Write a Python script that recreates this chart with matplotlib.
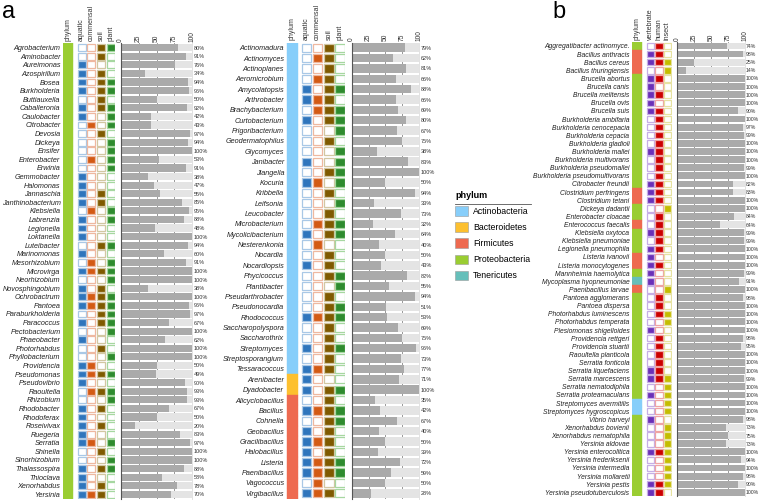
import matplotlib.pyplot as plt
from matplotlib.patches import Patch
from matplotlib.lines import Line2D

plt.rcParams['font.family'] = ['Liberation Sans', 'DejaVu Sans']

W, H = 760, 501

PHYLUM_COLORS = {
    'Actinobacteria': '#87CEFA',
    'Bacteroidetes': '#FDC02F',
    'Firmicutes': '#EE6A50',
    'Proteobacteria': '#9ACD32',
    'Tenericutes': '#66BFBA',
}
# (filled, empty border)
FLAG_COLORS = {
    'aquatic': ('#2F75BC', '#A9C8E6'),
    'commensal': ('#D35A14', '#EEB8A0'),
    'soil': ('#7F5A00', '#D2C7A2'),
    'plant': ('#2E8B2E', '#A6D7A0'),
    'vertebrate': ('#6A30B8', '#C6AEE6'),
    'human': ('#CC0000', '#EFA3A3'),
    'insect': ('#C4BD00', '#E6E2A0'),
}
BAR_DARK = '#AAAAAA'
BAR_LIGHT = '#E4E4E4'

# ---- panel a, left block (Proteobacteria) ----
a1_genus = ['Agrobacterium', 'Aminobacter', 'Aureimonas', 'Azospirillum', 'Bosea',
            'Burkholderia', 'Buttiauxella', 'Caballeronia', 'Caulobacter', 'Citrobacter',
            'Devosia', 'Dickeya', 'Ensifer', 'Enterobacter', 'Erwinia', 'Gemmobacter',
            'Halomonas', 'Jannaschia', 'Janthinobacterium', 'Klebsiella', 'Labrenzia',
            'Legionella', 'Loktanella', 'Luteibacter', 'Marinomonas', 'Mesorhizobium',
            'Microvirga', 'Neorhizobium', 'Novosphingobium', 'Ochrobactrum', 'Pantoea',
            'Paraburkholderia', 'Paracoccus', 'Pectobacterium', 'Phaeobacter', 'Photorhabdus',
            'Phyllobacterium', 'Providencia', 'Pseudomonas', 'Pseudovibrio', 'Raoultella',
            'Rhizobium', 'Rhodobacter', 'Rhodoferax', 'Roseivivax', 'Ruegeria', 'Serratia',
            'Shinella', 'Sinorhizobium', 'Thalassospira', 'Thioclava', 'Xenorhabdus', 'Yersinia']
a1_phylum = ['Proteobacteria'] * len(a1_genus)
a1_aquatic = [0, 0, 1, 1, 1, 1, 0, 1, 1, 0, 0, 0, 0, 0, 0, 1, 1, 1, 1, 0, 1, 1, 1, 0, 1, 0, 1,
              0, 1, 1, 1, 0, 1, 0, 1, 0, 0, 1, 1, 1, 0, 0, 1, 1, 1, 1, 1, 0, 0, 1, 1, 1, 1]
a1_commensal = [0, 0, 0, 0, 0, 0, 0, 0, 0, 1, 0, 0, 0, 1, 0, 0, 0, 0, 0, 1, 0, 0, 0, 0, 0, 1, 1,
                0, 0, 1, 1, 0, 0, 0, 0, 0, 0, 1, 1, 0, 1, 0, 0, 0, 0, 0, 1, 0, 0, 0, 0, 0, 1]
a1_soil = [1, 1, 0, 1, 1, 1, 1, 1, 0, 0, 1, 0, 0, 0, 0, 0, 0, 1, 1, 0, 0, 0, 0, 1, 0, 0, 1,
           0, 1, 1, 1, 1, 1, 0, 0, 1, 0, 0, 1, 0, 1, 0, 1, 0, 1, 0, 0, 1, 0, 1, 0, 1, 1]
a1_plant = [1, 0, 0, 0, 1, 1, 0, 1, 1, 1, 0, 1, 1, 1, 1, 0, 0, 0, 0, 1, 1, 0, 0, 1, 0, 1, 1,
            1, 0, 1, 1, 1, 1, 1, 0, 0, 1, 0, 1, 0, 1, 1, 0, 0, 0, 0, 1, 0, 1, 1, 0, 0, 0]
a1_pct = [80, 91, 76, 34, 94, 96, 50, 92, 42, 43, 97, 94, 100, 53, 91, 38, 47, 55, 85, 95,
          88, 48, 100, 94, 60, 91, 100, 100, 38, 100, 96, 97, 67, 100, 62, 100, 100, 50, 49, 90,
          93, 93, 67, 50, 20, 83, 97, 100, 100, 88, 58, 78, 70]

# ---- panel a, middle block ----
a2_genus = ['Actinomadura', 'Actinomyces', 'Actinoplanes', 'Aeromicrobium', 'Amycolatopsis',
            'Arthrobacter', 'Brachybacterium', 'Curtobacterium', 'Frigoribacterium',
            'Geodermatophilus', 'Glycomyces', 'Janibacter', 'Jiangella', 'Kocuria', 'Kribbella',
            'Leifsonia', 'Leucobacter', 'Microbacterium', 'Mycolicibacterium', 'Nesterenkonia',
            'Nocardia', 'Nocardiopsis', 'Phycicoccus', 'Plantibacter', 'Pseudarthrobacter',
            'Pseudonocardia', 'Rhodococcus', 'Saccharopolyspora', 'Saccharothrix', 'Streptomyces',
            'Streptosporangium', 'Tessaracoccus', 'Arenibacter', 'Dyadobacter', 'Alicyclobacillus',
            'Bacillus', 'Cohnella', 'Geobacillus', 'Gracilibacillus', 'Halobacillus', 'Listeria',
            'Paenibacillus', 'Vagococcus', 'Virgibacillus']
a2_phylum = ['Actinobacteria'] * 32 + ['Bacteroidetes'] * 2 + ['Firmicutes'] * 10
a2_aquatic = [0, 0, 0, 0, 1, 1, 0, 1, 0, 0, 0, 1, 0, 1, 0, 0, 0, 0, 1, 0, 0, 1,
              0, 0, 0, 0, 1, 0, 0, 1, 0, 1, 1, 1, 0, 1, 0, 1, 1, 1, 1, 1, 0, 1]
a2_commensal = [0, 1, 0, 1, 0, 1, 1, 0, 0, 0, 0, 0, 0, 1, 0, 0, 0, 1, 0, 1, 0, 0,
                0, 0, 0, 0, 1, 0, 0, 0, 0, 1, 0, 0, 0, 1, 0, 0, 1, 0, 1, 1, 1, 1]
a2_soil = [1, 1, 1, 1, 1, 1, 1, 1, 0, 1, 0, 0, 1, 0, 1, 0, 1, 1, 1, 0, 1, 1,
           1, 0, 1, 1, 1, 1, 1, 1, 1, 1, 0, 1, 1, 1, 1, 1, 1, 1, 1, 1, 0, 1]
a2_plant = [0, 0, 0, 0, 1, 0, 1, 1, 1, 0, 1, 1, 1, 1, 0, 1, 0, 1, 1, 0, 0, 0,
            1, 1, 0, 1, 1, 0, 0, 1, 0, 0, 0, 1, 0, 1, 1, 0, 0, 0, 1, 1, 0, 0]
a2_pct = [79, 62, 81, 66, 88, 66, 69, 80, 67, 75, 38, 83, 100, 50, 94, 33, 73, 32, 64, 40, 50, 43,
          82, 55, 94, 51, 53, 69, 75, 96, 73, 77, 71, 100, 35, 42, 67, 40, 50, 39, 72, 59, 50, 28]

# ---- panel b ----
b_species = ['Aggregatibacter actinomyce.', 'Bacillus anthracis', 'Bacillus cereus',
             'Bacillus thuringiensis', 'Brucella abortus', 'Brucella canis', 'Brucella melitensis',
             'Brucella ovis', 'Brucella suis', 'Burkholderia ambifaria', 'Burkholderia cenocepacia',
             'Burkholderia cepacia', 'Burkholderia gladioli', 'Burkholderia mallei',
             'Burkholderia multivorans', 'Burkholderia pseudomallei',
             'Burkholderia pseudomultivorans', 'Citrobacter freundii', 'Clostridium perfringens',
             'Clostridium tetani', 'Dickeya dadantii', 'Enterobacter cloacae',
             'Enterococcus faecalis', 'Klebsiella oxytoca', 'Klebsiella pneumoniae',
             'Legionella pneumophila', 'Listeria ivanovii', 'Listeria monocytogenes',
             'Mannheimia haemolytica', 'Mycoplasma hyopneumoniae', 'Paenibacillus larvae',
             'Pantoea agglomerans', 'Pantoea dispersa', 'Photorhabdus luminescens',
             'Photorhabdus temperata', 'Plesiomonas shigelloides', 'Providencia rettgeri',
             'Providencia stuartii', 'Raoultella planticola', 'Serratia fonticola',
             'Serratia liquefaciens', 'Serratia marcescens', 'Serratia nematodiphila',
             'Serratia proteamaculans', 'Streptomyces avermitilis', 'Streptomyces hygroscopicus',
             'Vibrio harveyi', 'Xenorhabdus bovienii', 'Xenorhabdus nematophila', 'Yersinia aldovae',
             'Yersinia enterocolitica', 'Yersinia frederiksenii', 'Yersinia intermedia',
             'Yersinia mollaretii', 'Yersinia pestis', 'Yersinia pseudotuberculosis']
P, F, A, T = 'Proteobacteria', 'Firmicutes', 'Actinobacteria', 'Tenericutes'
b_phylum = [P, F, F, F, P, P, P, P, P, P, P, P, P, P, P, P, P, P, F, F, P, P, F, P, P, P, F, F,
            P, T, F, P, P, P, P, P, P, P, P, P, P, P, P, P, A, A, P, P, P, P, P, P, P, P, P, P]
b_vertebrate = [0, 1, 1, 0, 1, 1, 1, 1, 1, 0, 0, 0, 0, 1, 0, 0, 0, 1, 1, 1, 0, 0, 0, 1, 0, 1, 1, 1,
                1, 1, 0, 0, 0, 0, 0, 1, 0, 0, 0, 0, 1, 1, 0, 1, 0, 0, 1, 0, 0, 0, 1, 0, 0, 0, 1, 1]
b_human = [1, 1, 1, 0, 1, 0, 1, 0, 1, 1, 1, 1, 1, 1, 1, 1, 1, 1, 1, 1, 0, 1, 1, 1, 1, 1, 0, 1,
           0, 0, 0, 1, 1, 1, 0, 0, 1, 1, 1, 1, 1, 1, 0, 0, 0, 0, 0, 0, 0, 0, 1, 0, 0, 0, 1, 1]
b_insect = [0, 0, 1, 1, 0, 0, 0, 0, 0, 0, 0, 0, 0, 0, 0, 0, 0, 0, 0, 0, 1, 0, 0, 0, 0, 0, 0, 0,
            0, 0, 1, 0, 0, 1, 1, 0, 0, 0, 0, 0, 0, 1, 1, 1, 1, 1, 0, 1, 1, 1, 1, 1, 1, 1, 1, 0]
b_pct = [74, 98, 25, 14, 100, 100, 100, 100, 90, 100, 97, 99, 100, 100, 100, 99, 100, 82, 83, 100,
         100, 84, 64, 99, 99, 100, 100, 100, 99, 91, 100, 98, 100, 100, 100, 100, 98, 95, 100, 100,
         100, 99, 100, 100, 100, 100, 98, 73, 75, 73, 100, 94, 100, 98, 90, 100]


def px_axes(fig, x0, y0, x1, y1):
    # axes placed by pixel box (top-left origin)
    return fig.add_axes([x0 / W, 1 - y1 / H, (x1 - x0) / W, (y1 - y0) / H])


def draw_panel(fig, names, phyla, flags, pct, tile_x, unit, gap, ph_w, fl_w,
               bar_x0, bar_x1, top, bottom, name_size, pct_size, bar_h):
    n = len(names)
    rows = list(range(n))
    ncol = len(flags)
    xmin = -ph_w / 2 - 0.05
    xmax = ncol + gap + fl_w / 2 + 0.05
    ax = px_axes(fig, tile_x, top, tile_x + (xmax - xmin) * unit, bottom)
    ax.set_xlim(xmin, xmax)
    ax.set_ylim(n - 0.5, -0.5)

    ph_cols = [PHYLUM_COLORS[p] for p in phyla]
    ax.barh(rows, ph_w, left=-ph_w / 2, height=1.0, color=ph_cols, edgecolor=ph_cols, linewidth=0.3)

    centers = [0]
    for k, (label, vals) in enumerate(flags.items()):
        dark, light = FLAG_COLORS[label]
        cx = 1 + gap + k
        centers.append(cx)
        faces = [dark if v else 'white' for v in vals]
        ax.barh(rows, fl_w, left=cx - fl_w / 2, height=0.8, color=faces,
                edgecolor=light, linewidth=0.9)

    ax.xaxis.tick_top()
    ax.set_xticks(centers)
    ax.set_xticklabels(['phylum'] + list(flags.keys()), rotation=90, fontsize=5, color='#333333')
    ax.set_yticks(rows)
    ax.set_yticklabels(names, fontsize=name_size, style='italic', color='#222222')
    ax.tick_params(length=0, pad=1.5)
    for s in ax.spines.values():
        s.set_visible(False)

    bx = px_axes(fig, bar_x0, top, bar_x1, bottom)
    bx.set_xlim(0, 100)
    bx.set_ylim(n - 0.5, -0.5)
    bx.barh(rows, [100] * n, height=bar_h, color=BAR_LIGHT, zorder=2)
    bx.barh(rows, pct, height=bar_h, color=BAR_DARK, zorder=3)
    bx.set_axisbelow(True)
    bx.xaxis.tick_top()
    bx.set_xticks([0, 25, 50, 75, 100])
    bx.grid(axis='x', color='#888888', linewidth=0.6)
    bx.get_xgridlines()[-1].set_color('#DDDDDD')
    bx.set_xticklabels(['0', '25', '50', '75', '100'], rotation=90, fontsize=4.8, color='#333333')
    bx.yaxis.tick_right()
    bx.set_yticks(rows)
    bx.set_yticklabels([f'{p}%' for p in pct], fontsize=pct_size, color='#333333')
    bx.tick_params(length=0, pad=1)
    for name, s in bx.spines.items():
        s.set_visible(name in ('left', 'right'))
    bx.spines['left'].set_color('#555555')
    bx.spines['left'].set_linewidth(0.8)
    bx.spines['left'].set_zorder(5)
    bx.spines['right'].set_color('#DDDDDD')
    bx.spines['right'].set_linewidth(0.6)


fig = plt.figure(figsize=(W / 100, H / 100), dpi=100)

draw_panel(fig, a1_genus, a1_phylum,
           {'aquatic': a1_aquatic, 'commensal': a1_commensal, 'soil': a1_soil, 'plant': a1_plant},
           a1_pct, tile_x=62.5, unit=9.67, gap=0.4, ph_w=1.06, fl_w=0.83,
           bar_x0=120.7, bar_x1=192.3, top=43.4, bottom=498.6,
           name_size=5.2, pct_size=4.0, bar_h=0.84)

draw_panel(fig, a2_genus, a2_phylum,
           {'aquatic': a2_aquatic, 'commensal': a2_commensal, 'soil': a2_soil, 'plant': a2_plant},
           a2_pct, tile_x=286.2, unit=11.1, gap=0.29, ph_w=0.99, fl_w=0.86,
           bar_x0=351.7, bar_x1=419.0, top=42.5, bottom=498.5,
           name_size=5.2, pct_size=4.0, bar_h=0.82)

draw_panel(fig, b_species, b_phylum,
           {'vertebrate': b_vertebrate, 'human': b_human, 'insect': b_insect},
           b_pct, tile_x=631.5, unit=8.6, gap=0.55, ph_w=1.16, fl_w=0.87,
           bar_x0=677.0, bar_x1=744.7, top=41.9, bottom=496.4,
           name_size=4.85, pct_size=3.7, bar_h=0.84)

fig.text(2 / W, 1 - 1 / H, 'a', fontsize=17, va='top', ha='left')
fig.text(552 / W, 1 - 1 / H, 'b', fontsize=17, va='top', ha='left')

handles = [Patch(facecolor=c, edgecolor='#9a9a9a', linewidth=0.4, label=k)
           for k, c in PHYLUM_COLORS.items()]
fig.legend(handles=handles, loc='upper left', bbox_to_anchor=(455 / W, 1 - 191 / H),
           frameon=False, title='phylum', title_fontproperties={'weight': 'bold', 'size': 6.5},
           fontsize=6.3, handlelength=1.45, handleheight=1.33, labelspacing=0.72,
           handletextpad=0.6, borderpad=0, borderaxespad=0, alignment='left')
fig.add_artist(Line2D([455 / W, 531 / W], [1 - 204 / H, 1 - 204 / H],
                      color='#555555', linewidth=0.6))

fig.savefig('out.png', dpi=100)
